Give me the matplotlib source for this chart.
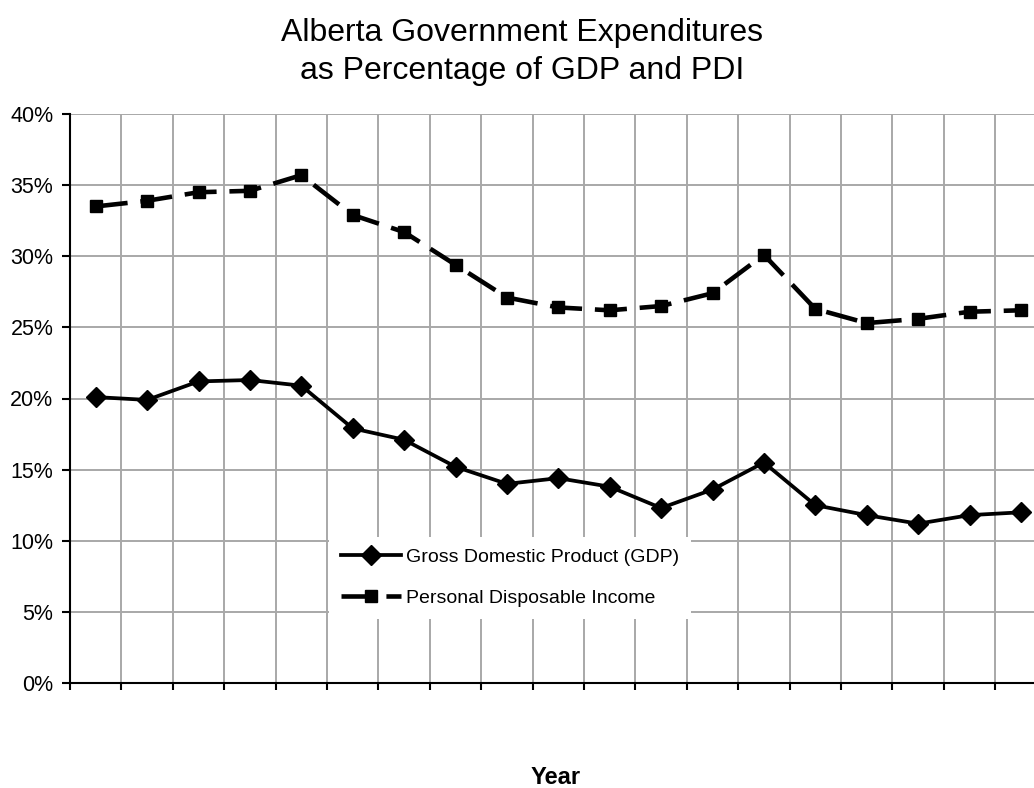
import numpy as np
import matplotlib
matplotlib.use("Agg")
import matplotlib.pyplot as plt
from matplotlib.ticker import PercentFormatter, MultipleLocator

plt.rcParams['font.family'] = ['Liberation Sans', 'DejaVu Sans']

# Expenditures as % of GDP and PDI (19 years)
gdp = [20.1, 19.9, 21.2, 21.3, 20.9, 17.9, 17.1, 15.2, 14.0, 14.4,
       13.8, 12.3, 13.6, 15.5, 12.5, 11.8, 11.2, 11.8, 12.0]
pdi = [33.5, 33.9, 34.5, 34.6, 35.7, 32.9, 31.7, 29.4, 27.1, 26.4,
       26.2, 26.5, 27.4, 30.1, 26.3, 25.3, 25.6, 26.1, 26.2]
labels = ['Gross Domestic Product (GDP)', 'Personal Disposable Income']

W, H = 1034, 788
fig = plt.figure(figsize=(W / 100, H / 100), dpi=100)
# plot area: left edge x=70, top y=114, bottom y=683, runs past right edge
ax = fig.add_axes([70 / W, 1 - 683 / H, 1 - 70 / W, (683 - 114) / H])

x = np.arange(len(gdp)) + 0.5
ax.plot(x, gdp, color='black', lw=2.7, marker='D', ms=10, label=labels[0])
ax.plot(x, pdi, color='black', lw=3.3, marker='s', ms=8.5,
        dashes=(7, 2.8), label=labels[1])

ax.set_ylim(0, 40)
ax.set_xlim(0, (W - 70) / 51.4)
ax.yaxis.set_major_locator(MultipleLocator(5))
ax.yaxis.set_major_formatter(PercentFormatter(decimals=0))
ax.xaxis.set_major_locator(MultipleLocator(1))
ax.set_xticklabels([])
ax.grid(True, color='#a8a8a8', lw=1.4)
ax.set_axisbelow(True)

for s in ['top', 'right']:
    ax.spines[s].set_visible(False)
for s in ['left', 'bottom']:
    ax.spines[s].set_linewidth(1.5)
ax.tick_params(axis='y', length=6, width=1.5, pad=6, labelsize=15.5)
ax.tick_params(axis='x', length=5, width=1.5)

leg = ax.legend(loc='upper left', bbox_to_anchor=(329 / W, 1 - 537 / H),
                bbox_transform=fig.transFigure, borderaxespad=0,
                fontsize=14, handlelength=3.1, handletextpad=0.26,
                labelspacing=1.2, borderpad=0.6, frameon=True,
                fancybox=False)
leg.get_frame().set_facecolor('white')
leg.get_frame().set_edgecolor('none')
leg.get_frame().set_alpha(1)

fig.text(522 / W, 1 - 18 / H,
         'Alberta Government Expenditures\nas Percentage of GDP and PDI',
         ha='center', va='top', fontsize=23, linespacing=1.35)
fig.text(556 / W, 1 - 777 / H, 'Year', ha='center', va='center',
         fontsize=17, fontweight='bold')

fig.savefig('out.png', dpi=100)
